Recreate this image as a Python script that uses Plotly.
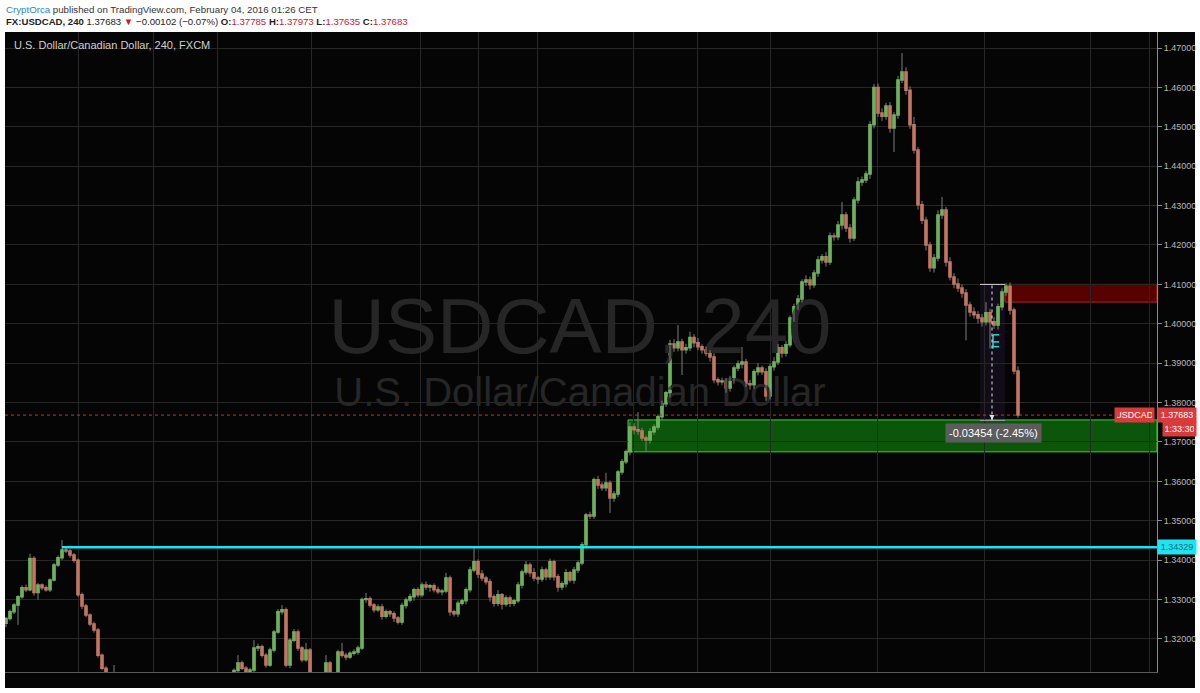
import plotly.graph_objects as go

# ---------------- data ----------------
closes = [
    1.3252, 1.3269, 1.3286, 1.3307, 1.3330, 1.3325, 1.3404, 1.3318, 1.3337, 1.3330,
    1.3325, 1.3350, 1.3388, 1.3406, 1.3426, 1.3423, 1.3413, 1.3400, 1.3312, 1.3284,
    1.3261, 1.3238, 1.3223, 1.3159, 1.3126, 1.3100, 1.3085, 1.3095, 1.3070, 1.3055,
    1.3040, 1.3030, 1.3045, 1.3020, 1.3005, 1.2995, 1.3010, 1.3025, 1.3015, 1.3000,
    1.2990, 1.3005, 1.3020, 1.3035, 1.3030, 1.3045, 1.3060, 1.3050, 1.3065, 1.3075,
    1.3070, 1.3085, 1.3095, 1.3090, 1.3100, 1.3095, 1.3105, 1.3120, 1.3139, 1.3126,
    1.3101, 1.3121, 1.3177, 1.3180, 1.3159, 1.3134, 1.3172, 1.3218, 1.3269, 1.3274,
    1.3134, 1.3197, 1.3218, 1.3177, 1.3147, 1.3172, 1.3110, 1.3090, 1.3080, 1.3095,
    1.3139, 1.3096, 1.3090, 1.3167, 1.3159, 1.3154, 1.3164, 1.3167, 1.3177, 1.3300,
    1.3302, 1.3286, 1.3274, 1.3281, 1.3258, 1.3269, 1.3264, 1.3253, 1.3243, 1.3285,
    1.3299, 1.3307, 1.3325, 1.3312, 1.3337, 1.3332, 1.3335, 1.3325, 1.3320, 1.3322,
    1.3355, 1.3269, 1.3264, 1.3291, 1.3297, 1.3325, 1.3375, 1.3396, 1.3365, 1.3355,
    1.3345, 1.3307, 1.3291, 1.3312, 1.3289, 1.3304, 1.3291, 1.3297, 1.3337, 1.3370,
    1.3388, 1.3368, 1.3355, 1.3352, 1.3375, 1.3358, 1.3396, 1.3358, 1.3332, 1.3340,
    1.3368, 1.3350, 1.3375, 1.3393, 1.3439, 1.3515, 1.3512, 1.3604, 1.3591, 1.3584,
    1.3596, 1.3558, 1.3568, 1.3624, 1.3650, 1.3675, 1.3738, 1.3731, 1.3728, 1.3710,
    1.3705, 1.3726, 1.3738, 1.3764, 1.3797, 1.3825, 1.3949, 1.3939, 1.3954, 1.3934,
    1.3939, 1.3965, 1.3952, 1.3942, 1.3934, 1.3926, 1.3916, 1.3858, 1.3853, 1.3855,
    1.3837, 1.3858, 1.3888, 1.3898, 1.3903, 1.3848, 1.3845, 1.3878, 1.3888, 1.3878,
    1.3817, 1.3891, 1.3903, 1.3939, 1.3926, 1.3947, 1.4015, 1.4043, 1.4063, 1.4106,
    1.4111, 1.4099, 1.4129, 1.4162, 1.4170, 1.4157, 1.4223, 1.4221, 1.4251, 1.4276,
    1.4243, 1.4218, 1.4314, 1.4360, 1.4365, 1.4380, 1.4505, 1.4600, 1.4535, 1.4527,
    1.4553, 1.4497, 1.4530, 1.4619, 1.4639, 1.4593, 1.4505, 1.4441, 1.4302, 1.4263,
    1.4200, 1.4142, 1.4167, 1.4276, 1.4289, 1.4157, 1.4119, 1.4101, 1.4091, 1.4078,
    1.4048, 1.4030, 1.4023, 1.4015, 1.4005, 1.4028, 1.4005, 1.3997, 1.4043, 1.4081,
    1.4095, 1.4035, 1.3880, 1.37683,
]
first_open = 1.3240

upper_wick_pips = [
    4, 6, 5, 4, 6, 8, 12, 6, 5, 4,
    6, 4, 5, 6, 25, 7, 6, 5, 4, 6,
    5, 4, 6, 5, 4, 5, 4, 39, 5, 4,
    5, 6, 4, 5, 5, 4, 6, 5, 4, 5,
    4, 5, 6, 4, 5, 5, 4, 6, 5, 4,
    5, 4, 6, 5, 4, 5, 6, 5, 20, 6,
    5, 6, 20, 8, 6, 5, 6, 5, 7, 12,
    6, 5, 7, 6, 5, 18, 5, 4, 6, 5,
    20, 5, 4, 6, 23, 6, 5, 7, 6, 5,
    15, 6, 5, 7, 8, 6, 5, 6, 5, 7,
    6, 8, 5, 6, 7, 9, 5, 6, 8, 5,
    13, 6, 5, 7, 5, 6, 8, 35, 6, 10,
    5, 8, 6, 12, 5, 7, 6, 5, 8, 6,
    10, 6, 12, 5, 9, 6, 8, 5, 7, 6,
    10, 5, 8, 6, 7, 5, 8, 6, 10, 7,
    26, 6, 8, 5, 7, 6, 12, 10, 45, 8,
    6, 9, 7, 6, 8, 5, 10, 12, 43, 8,
    10, 15, 9, 12, 6, 8, 7, 9, 6, 8,
    7, 10, 6, 9, 38, 8, 10, 7, 12, 6,
    9, 8, 12, 10, 7, 9, 6, 8, 10, 7,
    12, 9, 8, 10, 7, 12, 9, 8, 10, 33,
    8, 10, 7, 12, 9, 8, 10, 9, 10, 12,
    8, 10, 7, 10, 48, 12, 10, 20, 8, 10,
    9, 8, 10, 12, 33, 8, 12, 10, 14, 9,
    10, 8, 12, 9, 10, 27, 10, 12, 8, 9,
    8, 10, 6, 12,
]
lower_wick_pips = [
    10, 5, 6, 50, 5, 6, 4, 8, 18, 6,
    5, 6, 4, 5, 6, 5, 7, 6, 5, 8,
    6, 5, 7, 6, 5, 6, 5, 4, 6, 5,
    6, 5, 4, 6, 5, 5, 6, 4, 5, 6,
    5, 6, 4, 5, 6, 5, 4, 6, 5, 5,
    6, 4, 5, 6, 5, 4, 6, 5, 6, 5,
    7, 6, 5, 8, 6, 7, 5, 6, 5, 7,
    6, 8, 5, 7, 6, 5, 6, 5, 7, 6,
    5, 6, 5, 7, 6, 8, 5, 6, 7, 5,
    8, 6, 7, 5, 9, 6, 8, 10, 6, 7,
    8, 6, 10, 7, 6, 8, 12, 7, 6, 9,
    6, 10, 7, 8, 6, 9, 7, 6, 10, 8,
    7, 12, 9, 8, 14, 7, 10, 8, 6, 9,
    7, 10, 8, 12, 7, 9, 8, 10, 12, 8,
    9, 7, 10, 8, 6, 9, 8, 7, 10, 8,
    9, 38, 10, 8, 7, 6, 9, 12, 10, 8,
    30, 9, 8, 7, 9, 8, 12, 10, 9, 64,
    10, 8, 12, 9, 10, 8, 12, 9, 10, 8,
    12, 9, 10, 8, 11, 9, 12, 10, 9, 8,
    12, 9, 10, 8, 12, 9, 7, 10, 8, 9,
    10, 12, 8, 10, 9, 12, 8, 10, 9, 12,
    10, 12, 8, 9, 10, 8, 12, 9, 10, 12,
    9, 12, 61, 10, 8, 12, 10, 9, 12, 10,
    14, 10, 12, 9, 10, 12, 9, 11, 10, 12,
    90, 12, 10, 14, 12, 9, 68, 10, 12, 9,
    10, 12, 8, 7,
]

price_ticks = [1.32, 1.33, 1.34, 1.35, 1.36, 1.37, 1.38, 1.39,
               1.40, 1.41, 1.42, 1.43, 1.44, 1.45, 1.46, 1.47]
session_grid_idx = [18, 36.75, 52.75, 76.25, 103.5, 118, 132.75, 156.75,
                    172.75, 191, 217.75, 244.5, 271, 285.75]

support_level = 1.34329
support_from_idx = 14
green_zone = {"from_idx": 155.5, "low": 1.3675, "high": 1.3756}
red_zone = {"from_idx": 249.75, "low": 1.4055, "high": 1.4100}
measure = {"from_idx": 243.5, "to_idx": 249.75, "top": 1.4100, "bottom": 1.37546,
           "mid_idx": 246.5, "label": "-0.03454 (-2.45%)"}
cyan_marks = [1.3972, 1.3954, 1.3942]
last_price = 1.37683
countdown = "1:33:30"

# ---------------- derived OHLC ----------------
pip = 0.0001
opens = [first_open] + closes[:-1]
idx = list(range(len(closes)))
body_top = [max(o, c) for o, c in zip(opens, closes)]
body_bot = [min(o, c) for o, c in zip(opens, closes)]
highs = [t + u * pip for t, u in zip(body_top, upper_wick_pips)]
lows = [b - l * pip for b, l in zip(body_bot, lower_wick_pips)]

# ---------------- geometry ----------------
W, H = 1200, 693
ML, MR, MT, MB = 5, 43, 32, 21
PW, PH = W - ML - MR, H - MT - MB
X_RANGE = [-0.25, 287.75]
Y_RANGE = [1.31162, 1.47406]


def px_x(px):
    return (px - ML) / PW


def px_y(py):
    return (H - MB - py) / PH


FONT = "Liberation Sans, Arial, sans-serif"
UP = "#74d85a"
DOWN = "#ee7b5c"
RED_LBL = "#d93a3a"

fig = go.Figure()

# watermark (below candles)
fig.add_trace(go.Scatter(x=[143.5], y=[1.3975], mode="text", text=["USDCAD, 240"],
                         textfont=dict(size=78, color="#262626", family=FONT),
                         hoverinfo="skip", showlegend=False))
fig.add_trace(go.Scatter(x=[143.5], y=[1.3816], mode="text",
                         text=["U.S. Dollar/Canadian Dollar"],
                         textfont=dict(size=40, color="#262626", family=FONT),
                         hoverinfo="skip", showlegend=False))

# wicks
wx, wy = [], []
for i, lo, hi in zip(idx, lows, highs):
    wx += [i, i, None]
    wy += [lo, hi, None]
fig.add_trace(go.Scatter(x=wx, y=wy, mode="lines", line=dict(color="#7c7c7c", width=1),
                         hoverinfo="skip", showlegend=False))

# bodies
fig.add_trace(go.Candlestick(
    x=idx, open=opens, high=body_top, low=body_bot, close=closes,
    increasing=dict(line=dict(color=UP, width=1.5), fillcolor=UP),
    decreasing=dict(line=dict(color=DOWN, width=1.5), fillcolor=DOWN),
    whiskerwidth=0, hoverinfo="skip", showlegend=False))

# small cyan drawing
for lvl in cyan_marks:
    fig.add_trace(go.Scatter(x=[246.75, 248.25], y=[lvl, lvl], mode="lines",
                             line=dict(color="#22d8e8", width=1.5),
                             hoverinfo="skip", showlegend=False))
fig.add_trace(go.Scatter(x=[246.75, 246.75], y=[min(cyan_marks) - 0.0005, max(cyan_marks)],
                         mode="lines", line=dict(color="#22d8e8", width=1.5),
                         hoverinfo="skip", showlegend=False))

shapes = [
    # black chart panel incl. price scale & time strip
    dict(type="rect", xref="paper", yref="paper", x0=0, x1=px_x(1195), y0=px_y(688), y1=1,
         fillcolor="#050505", line=dict(width=0), layer="below"),
    # green zone
    dict(type="rect", xref="x", yref="y", x0=green_zone["from_idx"], x1=X_RANGE[1],
         y0=green_zone["low"], y1=green_zone["high"],
         fillcolor="rgba(16,140,16,0.6)", line=dict(color="#45c845", width=1), layer="below"),
    # red zone
    dict(type="rect", xref="x", yref="y", x0=red_zone["from_idx"], x1=X_RANGE[1],
         y0=red_zone["low"], y1=red_zone["high"],
         fillcolor="rgba(120,0,0,0.72)", line=dict(color="#b22222", width=1), layer="below"),
    # measure tool region
    dict(type="rect", xref="x", yref="y", x0=measure["from_idx"], x1=measure["to_idx"],
         y0=measure["bottom"], y1=measure["top"],
         fillcolor="rgba(110,60,160,0.13)", line=dict(width=0), layer="below"),
    dict(type="line", xref="x", yref="y", x0=measure["from_idx"], x1=measure["to_idx"],
         y0=measure["top"], y1=measure["top"], line=dict(color="#d8d8d8", width=1)),
    dict(type="line", xref="x", yref="y", x0=measure["from_idx"], x1=measure["to_idx"],
         y0=measure["bottom"], y1=measure["bottom"], line=dict(color="#9a9a9a", width=1)),
    dict(type="line", xref="x", yref="y", x0=measure["mid_idx"], x1=measure["mid_idx"],
         y0=measure["bottom"], y1=measure["top"], line=dict(color="#e0e0e0", width=1, dash="dot")),
    # support line
    dict(type="line", xref="x", yref="y", x0=support_from_idx, x1=X_RANGE[1],
         y0=support_level, y1=support_level, line=dict(color="#18e4f2", width=2.5)),
    # last price dotted line
    dict(type="line", xref="paper", yref="y", x0=0, x1=1, y0=last_price, y1=last_price,
         line=dict(color="#d23030", width=1, dash="dot")),
]

annotations = [
    # header
    dict(xref="paper", yref="paper", x=px_x(4), y=px_y(9), xanchor="left", yanchor="middle",
         showarrow=False, font=dict(size=9.7, color="#333333", family=FONT),
         text="<span style='color:#2a86c4'>CryptOrca</span> published on TradingView.com, "
              "February 04, 2016 01:26 CET"),
    dict(xref="paper", yref="paper", x=px_x(4), y=px_y(21), xanchor="left", yanchor="middle",
         showarrow=False, font=dict(size=9.6, color="#222222", family=FONT),
         text="<b>FX:USDCAD, 240</b> 1.37683 <span style='color:#cc1f1f'>▼</span> "
              "−0.00102 (−0.07%) <b>O:</b><span style='color:#c0262b'>1.37785</span> "
              "<b>H:</b><span style='color:#c0262b'>1.37973</span> "
              "<b>L:</b><span style='color:#c0262b'>1.37635</span> "
              "<b>C:</b><span style='color:#c0262b'>1.37683</span>"),
    # chart title
    dict(xref="paper", yref="paper", x=px_x(12), y=px_y(45), xanchor="left", yanchor="middle",
         showarrow=False, font=dict(size=11, color="#cfcfcf", family=FONT),
         text="U.S. Dollar/Canadian Dollar, 240, FXCM"),
    # measure label
    dict(xref="x", yref="y", x=246.75, y=1.3723, showarrow=False,
         text=measure["label"], font=dict(size=11, color="#ffffff", family=FONT),
         bgcolor="#5c5c5c", borderpad=3),
    # measure arrow
    dict(xref="x", yref="y", x=measure["mid_idx"], y=measure["bottom"] + 0.0001,
         axref="x", ayref="y", ax=measure["mid_idx"], ay=measure["bottom"] + 0.0012,
         showarrow=True, arrowhead=2, arrowsize=1, arrowwidth=1, arrowcolor="#e0e0e0", text=""),
    # price scale labels
    dict(xref="paper", yref="y", x=1.0, y=support_level, xanchor="left", yanchor="middle",
         showarrow=False, text=f"{support_level:.5f}", width=34, align="center",
         font=dict(size=9, color="#10707e", family=FONT), bgcolor="#20e2f0", borderpad=2),
    dict(xref="paper", yref="y", x=1.0, y=last_price, xanchor="left", yanchor="middle",
         showarrow=False, text=f"{last_price:.5f}", width=34, align="center",
         font=dict(size=9, color="#ffffff", family=FONT), bgcolor=RED_LBL, borderpad=2),
    dict(xref="paper", yref="y", x=px_x(1155), y=last_price, xanchor="right", yanchor="middle",
         showarrow=False, text="USDCAD", width=35, align="center",
         font=dict(size=9, color="#ffffff", family=FONT), bgcolor=RED_LBL, borderpad=2),
    dict(xref="paper", yref="paper", x=px_x(1162), y=px_y(428.5), xanchor="left", yanchor="middle",
         showarrow=False, text=countdown, width=29, align="center",
         font=dict(size=9, color="#ffffff", family=FONT), bgcolor=RED_LBL, borderpad=2),
]

fig.update_layout(
    width=W, height=H,
    margin=dict(l=ML, r=MR, t=MT, b=MB, pad=0),
    paper_bgcolor="#ffffff", plot_bgcolor="#050505",
    showlegend=False, hovermode=False,
    font=dict(family=FONT),
    shapes=shapes, annotations=annotations,
    xaxis=dict(range=X_RANGE, tickvals=session_grid_idx, showticklabels=False, ticks="",
               showgrid=True, gridcolor="#262626", gridwidth=1, zeroline=False,
               showline=True, linecolor="#5a5a5a", linewidth=1,
               rangeslider=dict(visible=False), fixedrange=True),
    yaxis=dict(range=Y_RANGE, side="right", tickvals=price_ticks,
               ticktext=[f"{v:.5f}" for v in price_ticks],
               tickfont=dict(size=9, color="#b8b8b8", family=FONT),
               ticks="outside", ticklen=4, tickcolor="#8a8a8a",
               showgrid=True, gridcolor="#262626", gridwidth=1, zeroline=False,
               showline=True, linecolor="#8a8a8a", linewidth=1, fixedrange=True),
)

fig.write_html("out.html", config={"displayModeBar": False},
               post_script="document.body.style.margin='0';")
